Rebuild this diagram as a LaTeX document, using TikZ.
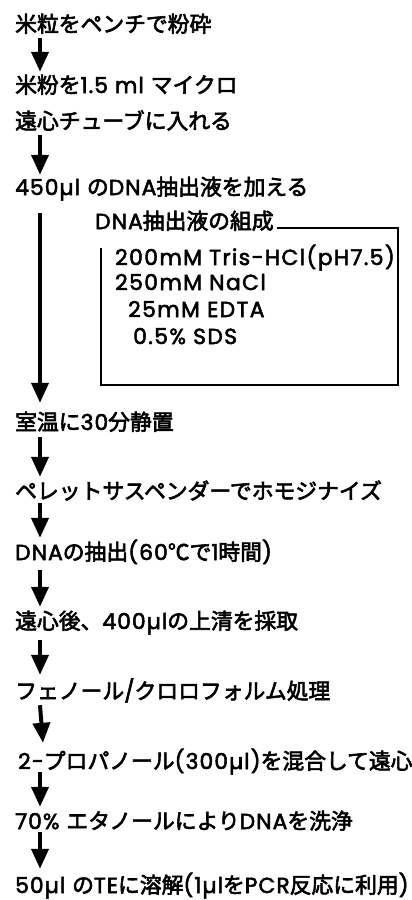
\documentclass[tikz,border=0pt]{standalone}
\usepackage{fontspec}
\setmainfont{Noto Sans CJK JP}[FakeBold=2.8]
\newfontfamily\latfont{Poppins}[LetterSpace=5, FakeBold=2.5]
\newfontfamily\latboxfont{Poppins}[LetterSpace=6.5, FakeBold=2.5]
\newcommand\lat[1]{{\latfont\mdseries #1}}
\newcommand\latb[1]{{\latboxfont\mdseries #1}}
\usetikzlibrary{arrows.meta}
\begin{document}
\begin{tikzpicture}[x=1pt,y=-1pt,
  stepnode/.style={anchor=west, inner sep=0pt, text height=17pt, text depth=3pt, font=\fontsize{21.8}{24}\selectfont\mdseries},
  flow/.style={line width=4pt, -{Triangle[length=20pt,width=17pt]}},
  boxline/.style={line width=2pt}]
\useasboundingbox (0,0) rectangle (412,900);
\node[stepnode] (s1) at (15,25) {米粒をペンチで粉砕};
\node[stepnode] (s2) at (15,86) {米粉を\lat{1.5 ml }マイクロ};
\node[stepnode] (s3) at (15,122) {遠心チューブに入れる};
\node[stepnode] (s4) at (15,188) {\lat{450µl }の\lat{DNA}抽出液を加える};
\node[stepnode] (t) at (95,222) {\lat{DNA}抽出液の組成};
\node[stepnode] (c1) at (115,258) {\latb{200mM Tris-HCl(pH7.5)}};
\node[stepnode] (c2) at (115,283) {\latb{250mM NaCl}};
\node[stepnode] (c3) at (128,310) {\latb{25mM EDTA}};
\node[stepnode] (c4) at (133,337) {\latb{0.5\% SDS}};
\node[stepnode] (s5) at (15,423) {室温に\lat{30}分静置};
\node[stepnode] (s6) at (15,492) {ペレットサスペンダーでホモジナイズ};
\node[stepnode] (s7) at (15,553) {\lat{DNA}の抽出\lat{(60}℃で\lat{1}時間\lat{)}};
\node[stepnode] (s8) at (15,622) {遠心後、\lat{400µl}の上清を採取};
\node[stepnode] (s9) at (15,692) {フェノール\lat{/}クロロフォルム処理};
\node[stepnode] (s10) at (18,762) {\lat{2-}プロパノール\lat{(300µl)}を混合して遠心};
\node[stepnode] (s11) at (15,822) {\lat{70\% }エタノールにより\lat{DNA}を洗浄};
\node[stepnode] (s12) at (15,886) {\lat{50µl }の\lat{TE}に溶解\lat{(1µl}を\lat{PCR}反応に利用\lat{)}};
\draw[flow] ([xshift=25pt,yshift=-3pt]s1.south west) -- ([xshift=25pt,yshift=4pt]s2.north west);
\draw[flow] ([xshift=25pt,yshift=-3pt]s3.south west) -- ([xshift=25pt,yshift=3pt]s4.north west);
\draw[flow] ([xshift=25pt,yshift=-15pt]s4.south west) -- ([xshift=25pt,yshift=10pt]s5.north west);
\draw[flow] ([xshift=25pt,yshift=-4pt]s5.south west) -- ([xshift=25pt,yshift=5pt]s6.north west);
\draw[flow] ([xshift=25pt,yshift=-1pt]s6.south west) -- ([xshift=25pt,yshift=5pt]s7.north west);
\draw[flow] ([xshift=25pt,yshift=-7pt]s7.south west) -- ([xshift=25pt,yshift=5pt]s8.north west);
\draw[flow] ([xshift=25pt,yshift=-8pt]s8.south west) -- ([xshift=25pt,yshift=7pt]s9.north west);
\draw[flow] ([xshift=25pt,yshift=-3pt]s9.south west) -- ([xshift=25pt,yshift=9pt]s10.north west);
\draw[flow] ([xshift=22pt,yshift=0pt]s10.south west) -- ([xshift=25pt,yshift=5pt]s11.north west);
\draw[flow] ([xshift=25pt,yshift=0pt]s11.south west) -- ([xshift=25pt,yshift=7pt]s12.north west);
\coordinate (bx) at (t.east |- 0,228);
\draw[boxline] ([xshift=3pt]bx) -- (398,228) -- (398,385) -- (101,385) -- (101,248);
\end{tikzpicture}
\end{document}
